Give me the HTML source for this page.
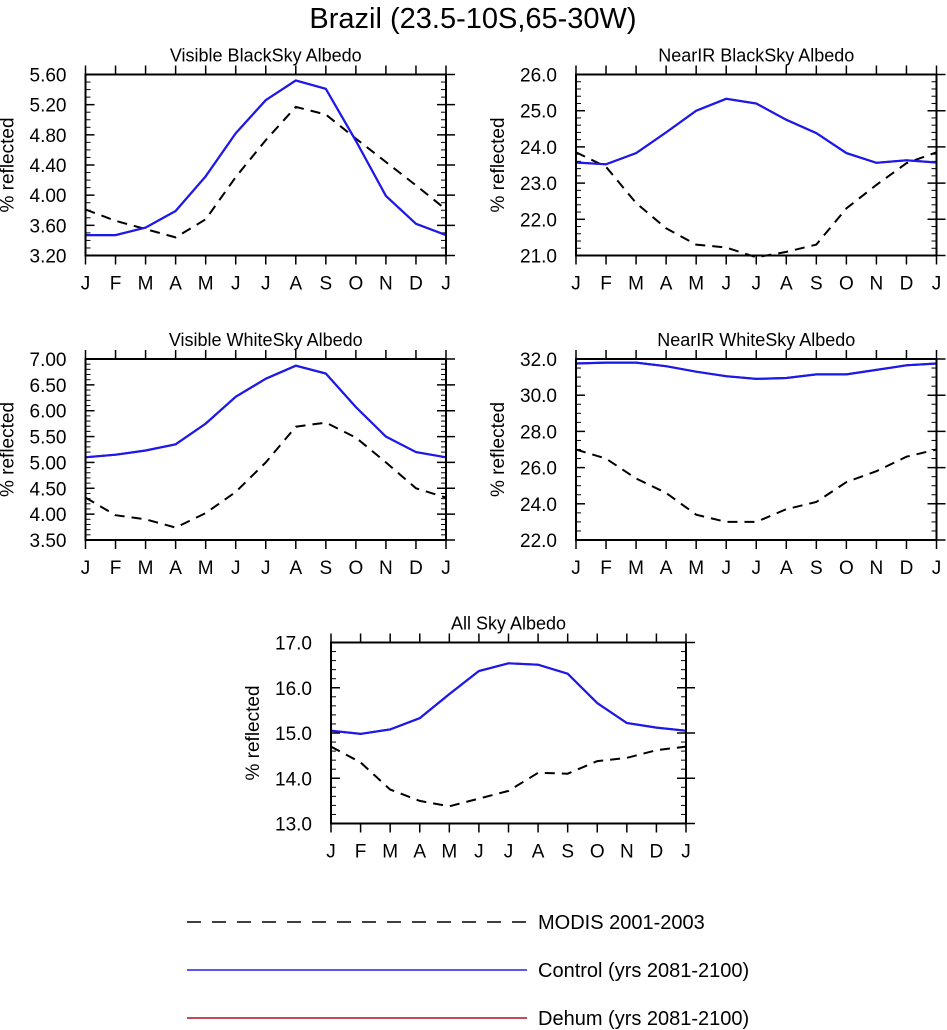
<!DOCTYPE html>
<html><head><meta charset="utf-8">
<style>
html,body{margin:0;padding:0;background:#fff;}
svg{display:block;font-family:"Liberation Sans",Helvetica,sans-serif;}
</style></head>
<body>
<svg id="fig" width="947" height="1030" viewBox="0 0 947 1030">
<text x="473" y="28" text-anchor="middle" font-size="29">Brazil (23.5-10S,65-30W)</text>
<g id="panels"></g>
<g>
<line x1="187" y1="922" x2="527" y2="922" stroke="#000" stroke-width="1.5" stroke-dasharray="14,11"/>
<text x="538" y="929" font-size="20">MODIS 2001-2003</text>
<line x1="187" y1="970" x2="527" y2="970" stroke="#2222ee" stroke-width="1.5"/>
<text x="538" y="977" font-size="20">Control (yrs 2081-2100)</text>
<line x1="187" y1="1018" x2="527" y2="1018" stroke="#b01020" stroke-width="1.5"/>
<text x="538" y="1025" font-size="20">Dehum (yrs 2081-2100)</text>
</g>
</svg>
<script>
const months = ["J","F","M","A","M","J","J","A","S","O","N","D","J"];

const visBlackControl = [3.47,3.47,3.57,3.79,4.25,4.82,5.26,5.52,5.41,4.72,3.99,3.62,3.47];
const visBlackModis = [3.81,3.66,3.55,3.44,3.68,4.24,4.73,5.17,5.07,4.75,4.44,4.13,3.81];
const visBlackTicks = ["3.20","3.60","4.00","4.40","4.80","5.20","5.60"];

const nirBlackControl = [23.57,23.52,23.83,24.4,25.0,25.33,25.2,24.75,24.38,23.83,23.56,23.63,23.57];
const nirBlackModis = [23.85,23.45,22.45,21.75,21.3,21.22,20.95,21.1,21.3,22.3,22.95,23.55,23.85];
const nirBlackTicks = ["21.0","22.0","23.0","24.0","25.0","26.0"];

const visWhiteControl = [5.1,5.15,5.23,5.35,5.75,6.27,6.62,6.87,6.72,6.07,5.5,5.2,5.1];
const visWhiteModis = [4.32,3.98,3.9,3.74,4.02,4.43,5.0,5.69,5.77,5.48,5.0,4.5,4.32];
const visWhiteTicks = ["3.50","4.00","4.50","5.00","5.50","6.00","6.50","7.00"];

const nirWhiteControl = [31.75,31.8,31.8,31.6,31.3,31.05,30.9,30.95,31.15,31.15,31.4,31.65,31.75];
const nirWhiteModis = [27.0,26.5,25.4,24.6,23.4,23.0,23.0,23.7,24.1,25.2,25.8,26.6,27.0];
const nirWhiteTicks = ["22.0","24.0","26.0","28.0","30.0","32.0"];

const allSkyControl = [15.05,14.98,15.08,15.33,15.86,16.37,16.54,16.51,16.31,15.66,15.22,15.12,15.05];
const allSkyModis = [14.7,14.35,13.75,13.5,13.38,13.55,13.72,14.12,14.1,14.38,14.45,14.62,14.7];
const allSkyTicks = ["13.0","14.0","15.0","16.0","17.0"];

const NS="http://www.w3.org/2000/svg";
function mk(tag,attrs,parent){const e=document.createElementNS(NS,tag);for(const k in attrs)e.setAttribute(k,attrs[k]);parent.appendChild(e);return e;}

function panel(id,title,box,ticks,minorN,control,modis){
  const root=document.getElementById('panels');
  const g=mk('g',{},root);
  
  
  const [x0,y0,x1,y1]=box;
  const tv=ticks.map(Number);
  const vmin=tv[0], vmax=tv[tv.length-1];
  const xs=i=>x0+(x1-x0)*i/(months.length-1);
  const ys=v=>y1-(v-vmin)/(vmax-vmin)*(y1-y0);
  const t=mk('text',{x:(x0+x1)/2,y:y0-13,'text-anchor':'middle','font-size':18},g);
  t.textContent=title;
  
  
  const yl=mk('text',{x:0,y:0,'text-anchor':'middle','font-size':19,transform:`translate(${x0-72},${(y0+y1)/2}) rotate(-90)`},g);
  yl.textContent='% reflected';
  
  
  for(let k=0;k<tv.length;k++){
    const y=ys(tv[k]);
    mk('line',{x1:x0,y1:y,x2:x0+9,y2:y,stroke:'#000','stroke-width':1.5},g);
    mk('line',{x1:x1-9,y1:y,x2:x1+9,y2:y,stroke:'#000','stroke-width':1.5},g);
    const lb=mk('text',{x:x0-19,y:y+7,'text-anchor':'end','font-size':19},g);
    lb.textContent=ticks[k];
    
    
    if(k<tv.length-1){
      for(let m=1;m<minorN;m++){
        const yy=ys(tv[k]+(tv[k+1]-tv[k])*m/minorN);
        mk('line',{x1:x0,y1:yy,x2:x0+5,y2:yy,stroke:'#000','stroke-width':1},g);
        mk('line',{x1:x1-5,y1:yy,x2:x1,y2:yy,stroke:'#000','stroke-width':1},g);
      }
    }
  }
  months.forEach((m,i)=>{
    const x=xs(i);
    mk('line',{x1:x,y1:y1,x2:x,y2:y1+9,stroke:'#000','stroke-width':1.5},g);
    mk('line',{x1:x,y1:y0,x2:x,y2:y0-9,stroke:'#000','stroke-width':1.5},g);
    const lb=mk('text',{x:x,y:y1+34,'text-anchor':'middle','font-size':19},g);
    lb.textContent=m;
    
    
  });
  const pts=arr=>arr.map((v,i)=>xs(i).toFixed(1)+','+ys(v).toFixed(1)).join(' ');
  const lm=mk('polyline',{points:pts(modis),fill:'none',stroke:'#000','stroke-width':2,'stroke-dasharray':'10,7'},g);
  
  
  const ld=mk('polyline',{points:pts(control),fill:'none',stroke:'#b01020','stroke-width':2},g);
  
  
  const lc=mk('polyline',{points:pts(control),fill:'none',stroke:'#1a1aee','stroke-width':2.2},g);
  
  
  const fr=mk('rect',{x:x0,y:y0,width:x1-x0,height:y1-y0,fill:'none',stroke:'#000','stroke-width':2},g);
  
  
}
panel('visible-blacksky','Visible BlackSky Albedo',[85.5,74.5,446,255.5],visBlackTicks,4,visBlackControl,visBlackModis);
panel('nearir-blacksky','NearIR BlackSky Albedo',[576,74.5,936.5,255.5],nirBlackTicks,5,nirBlackControl,nirBlackModis);
panel('visible-whitesky','Visible WhiteSky Albedo',[85.5,359,446,540],visWhiteTicks,5,visWhiteControl,visWhiteModis);
panel('nearir-whitesky','NearIR WhiteSky Albedo',[576,359,936.5,540],nirWhiteTicks,4,nirWhiteControl,nirWhiteModis);
panel('all-sky','All Sky Albedo',[331,642.5,686,823.5],allSkyTicks,5,allSkyControl,allSkyModis);
</script>
</body></html>
